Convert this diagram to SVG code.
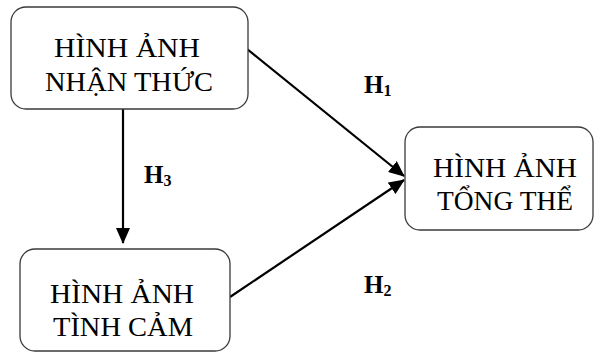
<svg xmlns="http://www.w3.org/2000/svg" width="595" height="353" viewBox="0 0 595 353">
<defs>
<style>
.box{fill:#fff;stroke:#3a3a3a;stroke-width:1.3}
.t{font-family:"Liberation Serif","Times New Roman",serif;font-size:28px;fill:#000;text-anchor:middle}
.h{font-family:"Liberation Serif","Times New Roman",serif;font-size:25px;font-weight:bold;fill:#000}
.sub{font-size:16px}
.c{stroke:#000;stroke-width:2.2;fill:none}
</style>
<marker id="ah" markerWidth="16" markerHeight="14" refX="15" refY="7" orient="auto" markerUnits="userSpaceOnUse">
<path d="M0,0 L16,7 L0,14 Z" fill="#000"/>
</marker>
</defs>
<g id="connectors">
<line class="c" x1="247" y1="49" x2="404" y2="176" marker-end="url(#ah)"/>
<line class="c" x1="230" y1="297" x2="404" y2="180" marker-end="url(#ah)"/>
<line class="c" x1="123" y1="109" x2="123" y2="243" marker-end="url(#ah)"/>
</g>
<g id="n1">
<rect class="box" x="11" y="7" width="237" height="102" rx="15"/>
<text class="t" x="127" y="57" textLength="146" lengthAdjust="spacingAndGlyphs">HÌNH ẢNH</text>
<text class="t" x="129" y="91" textLength="168" lengthAdjust="spacingAndGlyphs">NHẬN THỨC</text>
</g>
<g id="n2">
<rect class="box" x="20" y="249" width="210" height="102" rx="15"/>
<text class="t" x="122" y="303" textLength="144" lengthAdjust="spacingAndGlyphs">HÌNH ẢNH</text>
<text class="t" x="123" y="336" textLength="140" lengthAdjust="spacingAndGlyphs">TÌNH CẢM</text>
</g>
<g id="n3">
<rect class="box" x="405" y="127" width="188" height="103" rx="15"/>
<text class="t" x="505" y="177" textLength="144" lengthAdjust="spacingAndGlyphs">HÌNH ẢNH</text>
<text class="t" x="505" y="210" textLength="136" lengthAdjust="spacingAndGlyphs">TỔNG THỂ</text>
</g>
<g id="labels">
<text class="h" x="364" y="93">H<tspan class="sub" dy="3">1</tspan></text>
<text class="h" x="144" y="183">H<tspan class="sub" dy="3">3</tspan></text>
<text class="h" x="364" y="293">H<tspan class="sub" dy="3">2</tspan></text>
</g>
</svg>
